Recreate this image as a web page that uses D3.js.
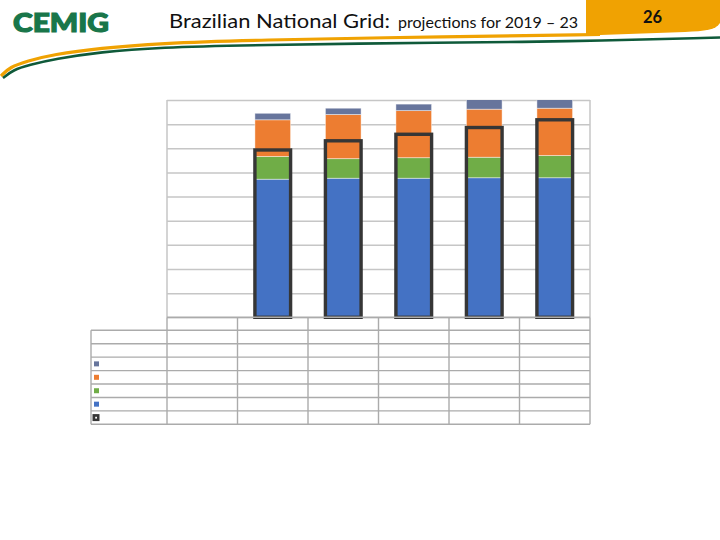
<!DOCTYPE html>
<html><head><meta charset="utf-8">
<script src="https://cdn.jsdelivr.net/npm/d3@7"></script>
<style>html,body{margin:0;padding:0;background:#fff;}svg{display:block;}</style>
</head><body>
<svg id="c" width="720" height="540"></svg>
<script>
// ---- data (axis units = gridline steps) ----
const categories = ["2018", "2019", "2020", "2021", "2022", "2023"];
const seriesBase   = [null, 5.72, 5.76, 5.76, 5.78, 5.78];   // blue
const seriesGreen  = [null, 0.94, 0.81, 0.85, 0.85, 0.92];   // green
const seriesOrange = [null, 1.52, 1.83, 1.95, 1.99, 1.96];   // orange
const seriesSlate  = [null, 0.27, 0.26, 0.27, 0.40, 0.45];   // grey-blue
const seriesTotal  = [null, 6.93, 7.31, 7.58, 7.86, 8.18];   // outlined column
const yTicks = [0, 1, 2, 3, 4, 5, 6, 7, 8, 9];
const seriesKeys = ["slate", "orange", "green", "base", "total"];
const colors = {base: "#4472c4", green: "#70ad47", orange: "#ed7d31", slate: "#67759c", total: "#363636"};

const svg = d3.select("#c");

// ---- header ----
svg.append("text").attr("x", 13).attr("y", 32)
  .attr("font-family", "Lato").attr("font-weight", 900).attr("font-size", 26)
  .attr("fill", "#19764a").attr("stroke", "#19764a").attr("stroke-width", 1.2)
  .attr("textLength", 96).attr("lengthAdjust", "spacingAndGlyphs")
  .text("CEMIG");
svg.append("text").attr("x", 169).attr("y", 28.3)
  .attr("font-family", "Lato").attr("font-size", 20).attr("fill", "#111")
  .attr("textLength", 221).attr("lengthAdjust", "spacingAndGlyphs")
  .text("Brazilian National Grid:");
svg.append("text").attr("x", 398).attr("y", 28.3)
  .attr("font-family", "Lato").attr("font-size", 16).attr("fill", "#111")
  .attr("textLength", 180).attr("lengthAdjust", "spacingAndGlyphs")
  .text("projections for 2019 – 23");
svg.append("path").attr("d", "M586,0 H720 V23 C716,30 705,31 685,32 L586,35.5 Z").attr("fill", "#f0a202");
svg.append("text").attr("x", 652.5).attr("y", 23.3).attr("text-anchor", "middle")
  .attr("font-family", "Lato").attr("font-weight", "bold").attr("font-size", 16.5).attr("fill", "#111")
  .text("26");
const sw = d3.line().curve(d3.curveBasis);
svg.append("path").attr("fill", "none").attr("stroke", "#f0a202").attr("stroke-width", 3.2)
  .attr("d", sw([[1,76],[10,67],[27,61],[53,54.5],[100,48],[160,43.3],[250,40],[450,36.6],[600,34.5]]));
svg.append("path").attr("fill", "none").attr("stroke", "#0f5a3a").attr("stroke-width", 2.6)
  .attr("d", sw([[3,78],[13,70],[29,65],[55,59],[100,52],[160,47.3],[250,45],[450,42.5],[560,41.7],[720,37.5]]));

// ---- chart ----
const plot = {left: 167, right: 590, top: 100, bottom: 317.3};
const x = d3.scaleBand().domain(categories).range([plot.left, plot.right]).paddingInner(0).paddingOuter(0);
const y = d3.scaleLinear().domain([0, 9]).range([plot.bottom, plot.top]);
const barW = x.bandwidth() * 0.506;

svg.append("defs").append("clipPath").attr("id", "pc")
  .append("rect").attr("x", plot.left).attr("y", plot.top).attr("width", plot.right - plot.left).attr("height", plot.bottom - plot.top + 4);

// gridlines via axis
const gAxis = svg.append("g").attr("transform", `translate(${plot.left},0)`)
  .call(d3.axisLeft(y).tickValues(yTicks).tickSize(-(plot.right - plot.left)).tickFormat(""));
gAxis.select(".domain").remove();
gAxis.selectAll("line").attr("stroke", "#c6c6c6").attr("stroke-width", 1.5);
svg.append("line").attr("x1", plot.left).attr("x2", plot.left).attr("y1", plot.top).attr("y2", plot.bottom).attr("stroke", "#c6c6c6").attr("stroke-width", 1.5);
svg.append("line").attr("x1", plot.right).attr("x2", plot.right).attr("y1", plot.top).attr("y2", plot.bottom).attr("stroke", "#c6c6c6").attr("stroke-width", 1.5);

// stacked columns
const rows = categories.map((c, i) => ({cat: c, base: seriesBase[i], green: seriesGreen[i], orange: seriesOrange[i], slate: seriesSlate[i]}))
  .filter(d => d.base != null);
const stack = d3.stack().keys(["base", "green", "orange", "slate"])(rows);
const gBars = svg.append("g").attr("clip-path", "url(#pc)");
stack.forEach(layer => {
  gBars.selectAll(null).data(layer).join("rect")
    .attr("x", d => x(d.data.cat) + (x.bandwidth() - barW) / 2)
    .attr("width", barW)
    .attr("y", d => y(d[1]))
    .attr("height", d => y(d[0]) - y(d[1]))
    .attr("fill", colors[layer.key])
    .attr("stroke", "rgba(255,255,255,0.55)").attr("stroke-width", 0.8);
});
// outlined total columns
const tot = categories.map((c, i) => ({cat: c, v: seriesTotal[i]})).filter(d => d.v != null);
gBars.selectAll(null).data(tot).join("rect")
  .attr("x", d => x(d.cat) + (x.bandwidth() - barW) / 2)
  .attr("width", barW)
  .attr("y", d => y(d.v))
  .attr("height", d => y(0) - y(d.v))
  .attr("fill", "none").attr("stroke", colors.total).attr("stroke-width", 3.4);

// ---- data table ----
const tblLeft = 91, rowH = 13.43, tblTop = 330.3, nRows = 7;
const tc = "#ababab";
const gT = svg.append("g").attr("stroke", tc).attr("stroke-width", 1.4);
gT.append("line").attr("x1", plot.left).attr("x2", plot.right).attr("y1", plot.bottom).attr("y2", plot.bottom);
const tblBottom = tblTop + nRows * rowH;
d3.range(nRows + 1).forEach(r => {
  gT.append("line").attr("x1", tblLeft).attr("x2", plot.right).attr("y1", tblTop + r * rowH).attr("y2", tblTop + r * rowH);
});
gT.append("line").attr("x1", tblLeft).attr("x2", tblLeft).attr("y1", tblTop).attr("y2", tblBottom);
categories.forEach(c => {
  gT.append("line").attr("x1", x(c)).attr("x2", x(c)).attr("y1", plot.bottom).attr("y2", tblBottom);
});
gT.append("line").attr("x1", plot.right).attr("x2", plot.right).attr("y1", plot.bottom).attr("y2", tblBottom);

// legend keys in the table rows
seriesKeys.forEach((k, i) => {
  const cy = tblTop + (i + 2.5) * rowH;
  if (k === "total") {
    svg.append("rect").attr("x", 92.5).attr("y", cy - 3.5).attr("width", 7).attr("height", 7).attr("fill", colors.total);
    svg.append("rect").attr("x", 95.2).attr("y", cy - 0.8).attr("width", 1.8).attr("height", 1.8).attr("fill", "#fff");
  } else {
    svg.append("rect").attr("x", 94).attr("y", cy - 2.5).attr("width", 5).attr("height", 5).attr("fill", colors[k]);
  }
});
</script>
</body></html>
